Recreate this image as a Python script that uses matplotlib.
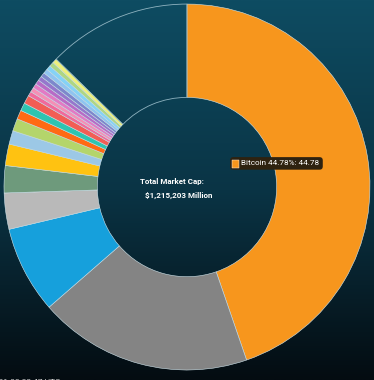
import matplotlib.pyplot as plt
import numpy as np
from matplotlib.colors import LinearSegmentedColormap

# market share in percent, clockwise from 12 o'clock
coins = ["Bitcoin", "Ethereum", "Coin 3", "Coin 4", "Coin 5", "Coin 6", "Coin 7",
         "Coin 8", "Coin 9", "Coin 10", "Coin 11", "Coin 12", "Coin 13", "Coin 14",
         "Coin 15", "Coin 16", "Coin 17", "Coin 18", "Coin 19", "Coin 20", "Coin 21",
         "Others"]
share = [44.78, 18.9, 7.7, 3.2, 2.4, 1.9, 1.2, 1.1, 0.8, 0.7, 0.75,
         0.4, 0.4, 0.4, 0.4, 0.4, 0.4, 0.4, 0.4, 0.4, 0.4, 12.7]
colors = ["#f7961d", "#848484", "#16a0dc", "#b9b9b9", "#6e9a7c", "#ffc211",
          "#9cc8e6", "#b4d56b", "#ff6a14", "#2ec4b1", "#f25d55",
          "#f06a9c", "#f48fb6", "#e27ac4", "#b86bc6", "#9577cc", "#7d88cc",
          "#8fc4f0", "#84d2f6", "#aed683", "#eef07c", "none"]
total_cap = "$1,215,203 Million"
tooltip = "Bitcoin 44.78%: 44.78"

plt.rcParams["font.family"] = ["Roboto", "DejaVu Sans"]

fig = plt.figure(figsize=(3.74, 3.80), dpi=100)

# background gradient
bg = fig.add_axes([0, 0, 1, 1])
grad = np.linspace(0, 1, 256).reshape(-1, 1)
cmap = LinearSegmentedColormap.from_list("bg", ["#0e4c62", "#0a3445", "#040c11"])
bg.imshow(grad, aspect="auto", cmap=cmap, extent=[0, 1, 0, 1], origin="upper")
bg.axis("off")

ax = fig.add_axes([0.0107, 0.0263, 0.9786, 0.963])
wedges, _ = ax.pie(share, colors=colors, startangle=90, counterclock=False,
                   radius=1, wedgeprops=dict(width=0.51, edgecolor="#cfe3ea",
                                             linewidth=0.4))
wedges[-1].set_facecolor("none")
wedges[-1].set_edgecolor("#8fb3c0")
wedges[-1].set_linewidth(0.6)
ax.set_xlim(-1, 1)
ax.set_ylim(-1, 1)
ax.set_aspect("equal")
ax.axis("off")

fig.text(0.460, 0.523, "Total Market Cap:", color="white", fontsize=5.8,
         fontweight="bold", ha="center", va="center")
fig.text(0.479, 0.486, total_cap, color="white", fontsize=5.8,
         fontweight="bold", ha="center", va="center")

# tooltip
fig.text(0.624, 0.570, "    " + tooltip, color="white", fontsize=5.9,
         ha="left", va="center",
         bbox=dict(boxstyle="round,pad=0.4", fc="#2e2210", ec="none"))
sq = plt.Rectangle((0.621, 0.559), 0.019, 0.021, fc="#f7961d",
                   ec="white", lw=0.3, transform=fig.transFigure,
                   figure=fig, zorder=10)
fig.patches.append(sq)

fig.text(-0.03, -0.012, "2021 00:02:47 UTC", color="#cccccc", fontsize=6,
         ha="left", va="bottom")

fig.savefig("out.png", dpi=100)
